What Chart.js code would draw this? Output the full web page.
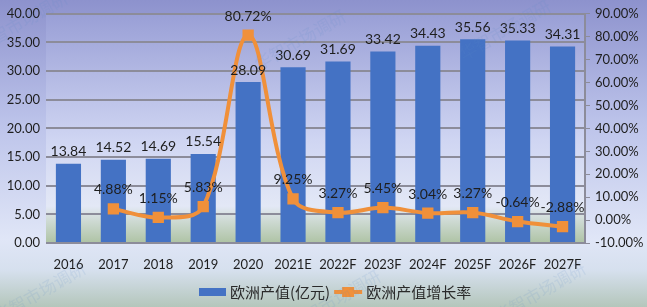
<!DOCTYPE html>
<html>
<head>
<meta charset="utf-8">
<script src="https://cdn.jsdelivr.net/npm/chart.js@4"></script>
<style>
  html, body { margin: 0; padding: 0; background: #fff; }
  #wrap { width: 647px; height: 307px; position: relative; }
</style>
</head>
<body>
<div id="wrap"><canvas id="euChart"></canvas></div>
<script>
// 年份
const labels = ['2016', '2017', '2018', '2019', '2020', '2021E', '2022F', '2023F', '2024F', '2025F', '2026F', '2027F'];
// 欧洲产值(亿元)
const outputValues = [13.84, 14.52, 14.69, 15.54, 28.09, 30.69, 31.69, 33.42, 34.43, 35.56, 35.33, 34.31];
// 欧洲产值增长率 (%)
const growthRates = [null, 4.88, 1.15, 5.83, 80.72, 9.25, 3.27, 5.45, 3.04, 3.27, -0.64, -2.88];

const barName = '欧洲产值(亿元)';
const lineName = '欧洲产值增长率';

const BLUE = '#4472C4';
const ORANGE = '#F0903A';
const tickFont = { family: 'Lato, "Noto Sans", sans-serif', size: 13 };

// background: whole image + plot area gradients
const bgPlugin = {
    id: 'bg',
    beforeDraw(chart) {
        const { ctx, width, height, chartArea: a } = chart;
        ctx.save();
        let g = ctx.createLinearGradient(0, 0, 0, height);
        g.addColorStop(0, '#8d92cd');
        g.addColorStop(0.4, '#bcc3ea');
        g.addColorStop(0.78, '#e0e6f7');
        g.addColorStop(0.88, '#d6e0ee');
        g.addColorStop(1, '#b4c6bb');
        ctx.fillStyle = g;
        ctx.fillRect(0, 0, width, height);

        g = ctx.createLinearGradient(0, a.top, 0, a.bottom);
        g.addColorStop(0, '#999fd6');
        g.addColorStop(0.55, '#cfd5f2');
        g.addColorStop(0.84, '#e3e8f6');
        g.addColorStop(0.87, '#d9e2e4');
        g.addColorStop(1, '#aec3a4');
        ctx.fillStyle = g;
        ctx.fillRect(a.left, a.top, a.right - a.left, a.bottom - a.top);
        ctx.restore();
    }
};

// faint watermark text
const watermarkPlugin = {
    id: 'watermark',
    afterDraw(chart) {
        const { ctx } = chart;
        const marks = [[22, 22], [300, 40], [505, 30], [40, 292], [335, 300], [540, 292]];
        ctx.save();
        ctx.font = '17px "Noto Sans CJK SC"';
        ctx.fillStyle = 'rgba(90,140,200,0.13)';
        ctx.textAlign = 'center';
        ctx.textBaseline = 'middle';
        marks.forEach(([x, y]) => {
            ctx.save();
            ctx.translate(x, y);
            ctx.rotate(-Math.PI / 6);
            ctx.fillText('华智市场调研', 0, 0);
            ctx.restore();
        });
        ctx.restore();
    }
};

// value labels above bars and points
const labelPlugin = {
    id: 'valueLabels',
    afterDatasetsDraw(chart) {
        const { ctx } = chart;
        ctx.save();
        ctx.font = '14px Lato, "Noto Sans", sans-serif';
        ctx.fillStyle = '#1e1e1e';
        ctx.textAlign = 'center';
        ctx.textBaseline = 'bottom';
        chart.getDatasetMeta(1).data.forEach((el, i) => {
            ctx.fillText(outputValues[i].toFixed(2), el.x, el.y - 5);
        });
        chart.getDatasetMeta(0).data.forEach((el, i) => {
            if (growthRates[i] === null) return;
            ctx.fillText(growthRates[i].toFixed(2) + '%', el.x, el.y - 12);
        });
        ctx.restore();
    }
};

// legend drawn at the bottom
const legendPlugin = {
    id: 'customLegend',
    afterDraw(chart) {
        const { ctx } = chart;
        const y = 292;
        ctx.save();
        ctx.font = '15px "Noto Sans CJK SC", sans-serif';
        ctx.fillStyle = '#2a2a2a';
        ctx.textBaseline = 'middle';
        let x = 199;
        ctx.fillStyle = BLUE;
        ctx.fillRect(x, y - 4, 27, 8);
        x += 31;
        ctx.fillStyle = '#2a2a2a';
        ctx.fillText(barName, x, y);
        x += ctx.measureText(barName).width + 4;
        ctx.strokeStyle = ORANGE;
        ctx.lineWidth = 4;
        ctx.beginPath();
        ctx.moveTo(x, y);
        ctx.lineTo(x + 28, y);
        ctx.stroke();
        ctx.fillStyle = ORANGE;
        ctx.fillRect(x + 8, y - 5, 12, 10);
        x += 32;
        ctx.fillStyle = '#2a2a2a';
        ctx.fillText(lineName, x, y);
        ctx.restore();
    }
};

new Chart(document.getElementById('euChart'), {
    data: {
        labels,
        datasets: [
            {
                type: 'line',
                label: lineName,
                data: growthRates,
                yAxisID: 'y1',
                borderColor: ORANGE,
                backgroundColor: ORANGE,
                borderWidth: 4,
                tension: 0.35,
                pointStyle: 'rect',
                pointRadius: 8,
                pointBorderWidth: 0,
                order: 0
            },
            {
                type: 'bar',
                label: barName,
                data: outputValues,
                yAxisID: 'y',
                backgroundColor: BLUE,
                barPercentage: 0.56,
                categoryPercentage: 1,
                order: 1
            }
        ]
    },
    options: {
        responsive: true,
        maintainAspectRatio: false,
        animation: false,
        layout: { padding: { top: 10, bottom: 36, left: 0, right: 0 } },
        plugins: {
            legend: { display: false },
            tooltip: { enabled: false }
        },
        scales: {
            x: {
                grid: { display: false },
                border: { display: false },
                ticks: { font: tickFont, color: '#1e1e1e', padding: 6, maxRotation: 0 },
                afterFit: s => { s.height = 28; }
            },
            y: {
                position: 'left',
                min: 0,
                max: 40,
                ticks: {
                    stepSize: 5,
                    font: tickFont,
                    color: '#1e1e1e',
                    padding: 6,
                    callback: v => v.toFixed(2)
                },
                grid: { color: '#8c8c9a', lineWidth: 2, drawTicks: false },
                border: { display: false },
                afterFit: s => { s.width = 46; }
            },
            y1: {
                position: 'right',
                min: -10,
                max: 90,
                ticks: {
                    stepSize: 10,
                    font: tickFont,
                    color: '#1e1e1e',
                    padding: 5,
                    callback: v => v.toFixed(2) + '%'
                },
                grid: { display: true, drawOnChartArea: false, drawTicks: true, tickLength: 5, color: '#8c8c9a', lineWidth: 1 },
                border: { display: true, color: '#8c8c9a', width: 2 },
                afterFit: s => { s.width = 62; }
            }
        }
    },
    plugins: [bgPlugin, labelPlugin, legendPlugin, watermarkPlugin]
});
</script>
</body>
</html>
